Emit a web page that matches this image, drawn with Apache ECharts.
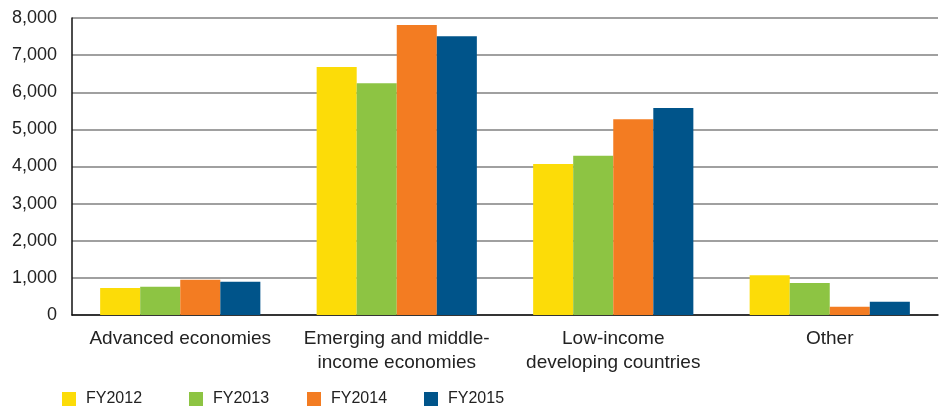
<!DOCTYPE html>
<html>
<head>
<meta charset="utf-8">
<script src="https://cdn.jsdelivr.net/npm/echarts@6/dist/echarts.min.js"></script>
<style>
  html, body { margin: 0; padding: 0; background: #fff; }
  #chart { width: 939px; height: 409px; }
</style>
</head>
<body>
<div id="chart"></div>
<script>
// Categories along the x axis
const categories = [
  'Advanced economies',
  'Emerging and middle-\nincome economies',
  'Low-income\ndeveloping countries',
  'Other'
];

// Values by fiscal year
const fy2012 = [730, 6680, 4070, 1070];
const fy2013 = [760, 6240, 4290, 860];
const fy2014 = [950, 7810, 5270, 225];
const fy2015 = [895, 7510, 5575, 355];

const seriesNames = ['FY2012', 'FY2013', 'FY2014', 'FY2015'];
const seriesData = [fy2012, fy2013, fy2014, fy2015];
const colors = ['#FCDC08', '#8DC443', '#F37C22', '#00548A'];

// Y axis range and step
const yMin = 0;
const yMax = 8000;
const yStep = 1000;

const legendLefts = [62, 189, 307, 424];
const font = '"Liberation Sans", Arial, Helvetica, sans-serif';

const chart = echarts.init(document.getElementById('chart'), null, { renderer: 'canvas' });

const option = {
  animation: false,
  backgroundColor: '#ffffff',
  grid: { left: 72, right: 1, top: 18, bottom: 94, containLabel: false },
  legend: seriesNames.map((name, i) => ({
    data: [name],
    left: legendLefts[i],
    top: 391,
    padding: 0,
    icon: 'rect',
    itemWidth: 14,
    itemHeight: 14,
    selectedMode: false,
    textStyle: { fontFamily: font, fontSize: 16, color: '#222', padding: [0, 0, 0, 5] }
  })),
  xAxis: {
    type: 'category',
    data: categories,
    axisLine: { show: true, lineStyle: { color: '#111', width: 1.5 } },
    axisTick: { show: false },
    axisLabel: {
      fontFamily: font,
      fontSize: 19,
      color: '#222',
      lineHeight: 24,
      margin: 12,
      interval: 0
    }
  },
  yAxis: {
    type: 'value',
    min: yMin,
    max: yMax,
    interval: yStep,
    axisLine: { show: true, lineStyle: { color: '#111', width: 1.5 } },
    axisTick: { show: false },
    splitLine: { show: true, lineStyle: { color: '#808080', width: 1.5 } },
    axisLabel: {
      fontFamily: font,
      fontSize: 18,
      color: '#222',
      margin: 15,
      padding: [0, 0, 8, 0],
      formatter: v => v.toLocaleString('en-US')
    }
  },
  series: seriesNames.map((name, i) => ({
    name: name,
    type: 'bar',
    data: seriesData[i],
    barGap: '0%',
    barCategoryGap: '26%',
    itemStyle: { color: colors[i] }
  }))
};

chart.setOption(option);
</script>
</body>
</html>
